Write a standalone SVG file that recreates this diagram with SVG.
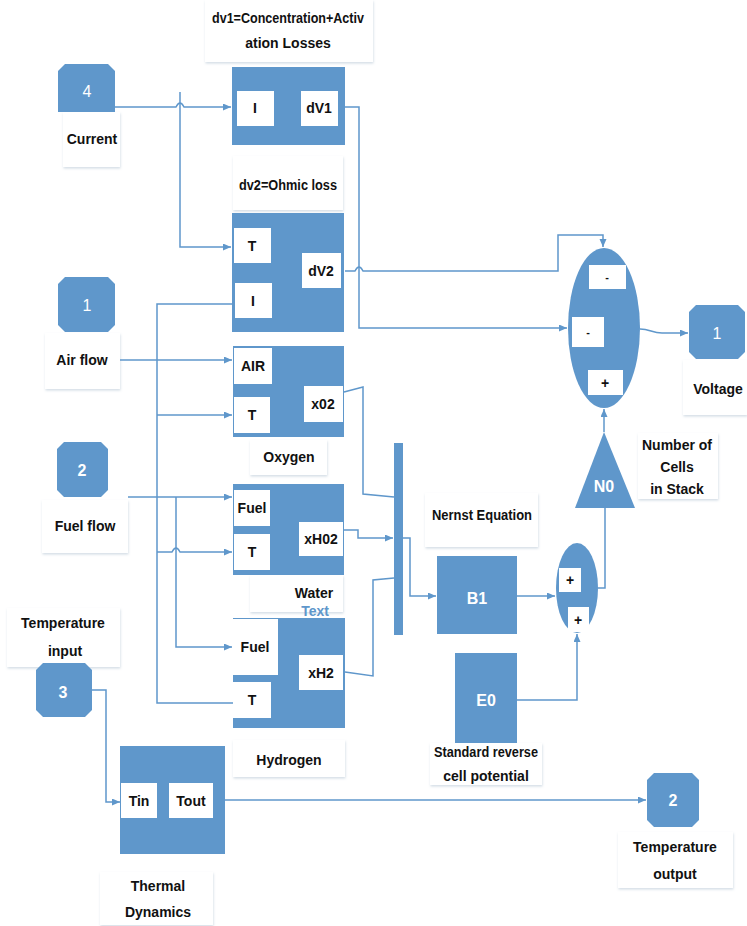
<svg xmlns="http://www.w3.org/2000/svg" width="747" height="926" viewBox="0 0 747 926">
<defs>
<filter id="sh" x="-10%" y="-10%" width="130%" height="130%">
<feDropShadow dx="0.5" dy="1.5" stdDeviation="1" flood-color="#9fb3c8" flood-opacity="0.45"/>
</filter>
<marker id="ar" markerUnits="userSpaceOnUse" markerWidth="9" markerHeight="8" refX="8" refY="3.5" orient="auto">
<path d="M0,0 L8,3.5 L0,7 z" fill="#5f97cb"/>
</marker>
</defs>
<style>
.blk{fill:#5f97cb}
.wb{fill:#fff}
.lb{fill:#fff;filter:url(#sh)}
.t{font-family:"Liberation Sans",Arial,sans-serif;font-weight:bold;font-size:14px;fill:#111;text-anchor:middle;dominant-baseline:central}
.w{font-family:"Liberation Sans",Arial,sans-serif;font-weight:bold;font-size:16px;fill:#fff;text-anchor:middle;dominant-baseline:central}
.c{fill:none;stroke:#5f97cb;stroke-width:1.5}
.a{marker-end:url(#ar)}
</style>
<rect width="747" height="926" fill="#fff"/>

<!-- label boxes -->
<g id="lbl-dv1">
<rect class="lb" x="205" y="0" width="168" height="62"/>
<text class="t" x="288" y="18" textLength="152" lengthAdjust="spacingAndGlyphs">dv1=Concentration+Activ</text>
<text class="t" x="288" y="43">ation Losses</text>
</g>
<g id="lbl-dv2">
<rect class="lb" x="233" y="156" width="110" height="54"/>
<text class="t" x="288" y="185" textLength="98" lengthAdjust="spacingAndGlyphs">dv2=Ohmic loss</text>
</g>
<g id="lbl-current"><rect class="lb" x="63" y="112" width="57" height="55"/><text class="t" x="92" y="139">Current</text></g>
<g id="lbl-air"><rect class="lb" x="45" y="333" width="75" height="56"/><text class="t" x="82" y="360">Air flow</text></g>
<g id="lbl-fuel"><rect class="lb" x="42" y="500" width="86" height="53"/><text class="t" x="85" y="526">Fuel flow</text></g>
<g id="lbl-tin"><rect class="lb" x="7" y="608" width="113" height="59"/><text class="t" x="63" y="623">Temperature</text><text class="t" x="65" y="651">input</text></g>
<g id="lbl-oxygen"><rect class="lb" x="250" y="440" width="77" height="35"/><text class="t" x="289" y="457">Oxygen</text></g>
<g id="lbl-water"><rect class="lb" x="250" y="575" width="93" height="37"/><text class="t" x="314" y="593">Water</text><text class="t" x="315" y="611" style="fill:#5f97cb">Text</text></g>
<g id="lbl-hydrogen"><rect class="lb" x="233" y="740" width="112" height="37"/><text class="t" x="289" y="760">Hydrogen</text></g>
<g id="lbl-nernst"><rect class="lb" x="425" y="493" width="113" height="54"/><text class="t" x="482" y="515" textLength="100" lengthAdjust="spacingAndGlyphs">Nernst Equation</text></g>
<g id="lbl-e0"><rect class="lb" x="430" y="743" width="112" height="42"/><text class="t" x="486" y="752" textLength="104" lengthAdjust="spacingAndGlyphs">Standard reverse</text><text class="t" x="486" y="776">cell potential</text></g>
<g id="lbl-n0"><rect class="lb" x="638" y="433" width="80" height="66"/><text class="t" x="677" y="445">Number of</text><text class="t" x="677" y="467">Cells</text><text class="t" x="677" y="489">in Stack</text></g>
<g id="lbl-voltage"><rect class="lb" x="683" y="360" width="64" height="55"/><text class="t" x="718" y="389">Voltage</text></g>
<g id="lbl-tout"><rect class="lb" x="618" y="832" width="115" height="56"/><text class="t" x="675" y="847">Temperature</text><text class="t" x="675" y="874">output</text></g>
<g id="lbl-thermal"><rect class="lb" x="100" y="872" width="113" height="53"/><text class="t" x="158" y="886">Thermal</text><text class="t" x="158" y="912">Dynamics</text></g>

<!-- connectors -->
<g id="connectors">
<path class="c a" d="M115,107 H176 Q180,99 184,107 H231"/>
<path class="c a" d="M180,92 V247 H231"/>
<path class="c a" d="M345,107 H359 V328 H567"/>
<path class="c a" d="M345,271 H355 Q359,263 363,271 H558 V235 H603 V247"/>
<path class="c" d="M233,304 H157 V703 H233"/>
<path class="c a" d="M157,415 H232"/>
<path class="c a" d="M157,552 H172 Q176,544 180,552 H232"/>
<path class="c a" d="M120,360 H232"/>
<path class="c a" d="M128,497 H232"/>
<path class="c a" d="M176,497 V647 H232"/>
<path class="c" d="M344,392 L363,387 V494 L394,497"/>
<path class="c a" d="M344,530 H358 V538 H393"/>
<path class="c" d="M345,672 L373,676 V580 L394,578"/>
<path class="c a" d="M403,538 H410 V596 H436"/>
<path class="c a" d="M517,596 H555"/>
<path class="c" d="M598,588 H605 V508"/>
<path class="c a" d="M517,700 H577 V634"/>
<path class="c a" d="M604,432 V409"/>
<path class="c a" d="M640,329 C650,329 652,333 662,333 H688"/>
<path class="c a" d="M92,690 H106 V802 H120"/>
<path class="c a" d="M225,800 H646"/>
</g>

<!-- ports -->
<g id="in4"><path class="blk" d="M65,64 H108 L115,71 V112 H58 V71 Z"/><text class="w" x="87" y="91" style="font-weight:normal">4</text></g>
<g id="in1"><path class="blk" d="M65,277 H108 L115,284 V325 L108,332 H65 L58,325 V284 Z"/><text class="w" x="87" y="305" style="font-weight:normal">1</text></g>
<g id="in2"><path class="blk" d="M64,442 H101 L108,449 V490 L101,497 H64 L57,490 V449 Z"/><text class="w" x="82" y="470">2</text></g>
<g id="in3"><path class="blk" d="M43,663 H85 L92,670 V710 L85,717 H43 L36,710 V670 Z"/><text class="w" x="63" y="692">3</text></g>
<g id="out1"><path class="blk" d="M696,305 H738 L745,312 V352 L738,359 H696 L689,352 V312 Z"/><text class="w" x="717" y="333" style="font-weight:normal">1</text></g>
<g id="out2"><path class="blk" d="M654,773 H692 L699,780 V820 L692,827 H654 L647,820 V780 Z"/><text class="w" x="673" y="800">2</text></g>

<!-- blocks -->
<g id="blk-dv1">
<rect class="blk" x="232" y="67" width="113" height="78"/>
<rect class="wb" x="237" y="91" width="37" height="35"/><text class="t" x="255" y="108">I</text>
<rect class="wb" x="301" y="91" width="37" height="35"/><text class="t" x="319" y="108">dV1</text>
</g>
<g id="blk-dv2">
<rect class="blk" x="232" y="213" width="112" height="119"/>
<rect class="wb" x="234" y="228" width="37" height="35"/><text class="t" x="252" y="246">T</text>
<rect class="wb" x="235" y="283" width="37" height="35"/><text class="t" x="253" y="301">I</text>
<rect class="wb" x="302" y="253" width="39" height="35"/><text class="t" x="321" y="271">dV2</text>
</g>
<g id="blk-oxygen">
<rect class="blk" x="233" y="346" width="111" height="91"/>
<rect class="wb" x="234" y="348" width="38" height="36"/><text class="t" x="253" y="366">AIR</text>
<rect class="wb" x="234" y="397" width="36" height="36"/><text class="t" x="252" y="415">T</text>
<rect class="wb" x="304" y="386" width="39" height="36"/><text class="t" x="323" y="404">x02</text>
</g>
<g id="blk-water">
<rect class="blk" x="233" y="484" width="111" height="91"/>
<rect class="wb" x="234" y="490" width="36" height="36"/><text class="t" x="252" y="508">Fuel</text>
<rect class="wb" x="234" y="534" width="36" height="36"/><text class="t" x="252" y="552">T</text>
<rect class="wb" x="299" y="522" width="44" height="34"/><text class="t" x="321" y="539">xH02</text>
</g>
<g id="blk-hydrogen">
<rect class="blk" x="233" y="618" width="112" height="110"/>
<rect class="wb" x="233" y="619" width="45" height="56"/><text class="t" x="255" y="647">Fuel</text>
<rect class="wb" x="233" y="682" width="38" height="36"/><text class="t" x="252" y="700">T</text>
<rect class="wb" x="299" y="655" width="44" height="35"/><text class="t" x="321" y="673">xH2</text>
</g>
<g id="blk-thermal">
<rect class="blk" x="120" y="746" width="105" height="108"/>
<rect class="wb" x="121" y="783" width="36" height="35"/><text class="t" x="139" y="801">Tin</text>
<rect class="wb" x="169" y="783" width="44" height="35"/><text class="t" x="191" y="801">Tout</text>
</g>
<g id="blk-mux"><rect class="blk" x="394" y="443" width="9" height="192"/></g>
<g id="blk-b1"><rect class="blk" x="437" y="556" width="80" height="78"/><text class="w" x="477" y="598">B1</text></g>
<g id="blk-e0"><rect class="blk" x="455" y="653" width="62" height="90"/><text class="w" x="486" y="700">E0</text></g>
<g id="blk-n0"><path class="blk" d="M604,432 L635,508 H575 Z"/><text class="w" x="604" y="486">N0</text></g>
<g id="sum1">
<ellipse class="blk" cx="604" cy="328" rx="36" ry="80"/>
<rect class="wb" x="589" y="265" width="37" height="24"/><text class="t" x="607" y="277" style="font-size:11px">-</text>
<rect class="wb" x="572" y="317" width="32" height="30"/><text class="t" x="588" y="332" style="font-size:11px">-</text>
<rect class="wb" x="588" y="370" width="35" height="25"/><text class="t" x="605" y="383">+</text>
</g>
<g id="sum2">
<ellipse class="blk" cx="577" cy="588" rx="21" ry="45"/>
<rect class="wb" x="559" y="568" width="22" height="24"/><text class="t" x="570" y="580">+</text>
<rect class="wb" x="568" y="607" width="21" height="25"/><text class="t" x="578" y="620">+</text>
</g>
</svg>
